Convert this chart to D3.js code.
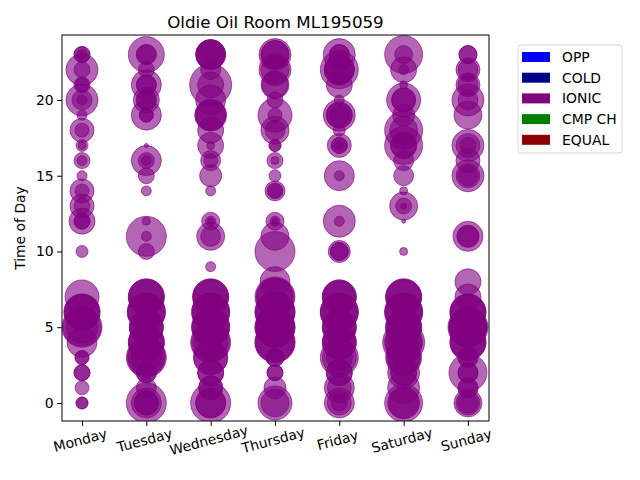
<!DOCTYPE html>
<html>
<head>
<meta charset="utf-8">
<script src="https://cdn.jsdelivr.net/npm/d3@7"></script>
<style>
  body { margin: 0; background: #fff; }
  text { font-family: "DejaVu Sans", sans-serif; }
</style>
</head>
<body>
<svg id="chart" width="640" height="480"></svg>
<script>
// days on the x axis
var days = ["Monday", "Tuesday", "Wednesday", "Thursday", "Friday", "Saturday", "Sunday"];

// hour of each bubble, one list per day
var hoursByDay = [
  [23, 23, 22, 22, 21, 20, 20, 20, 19, 18, 18, 17, 17, 16, 16, 15, 14, 14, 13, 13, 12, 12, 10, 7, 6, 5, 4, 3, 2, 1, 0,
   23, 21, 12, 6, 6, 5, 5, 3, 2, 0],
  [23, 23, 22, 21, 21, 20, 20, 19, 19, 17, 16, 16, 16, 15, 14, 12, 11, 11, 10, 7, 6, 5, 4, 3, 3, 2, 1, 0, 0,
   23, 21, 20, 19, 7, 7, 6, 6, 5, 5, 4, 4, 3, 3, 2, 0, 0],
  [23, 23, 22, 21, 21, 20, 19, 19, 18, 17, 17, 16, 16, 15, 14, 12, 12, 12, 11, 11, 9, 7, 6, 5, 4, 4, 3, 2, 1, 0, 0,
   23, 23, 19, 7, 7, 6, 6, 5, 5, 4, 3, 2, 1, 0],
  [23, 23, 22, 21, 20, 19, 19, 18, 18, 17, 16, 16, 15, 14, 14, 12, 12, 12, 11, 10, 8, 7, 6, 5, 5, 4, 3, 2, 1, 0,
   23, 22, 21, 17, 14, 7, 7, 6, 6, 5, 5, 4, 4, 3, 2, 0],
  [23, 23, 22, 22, 21, 20, 19, 19, 19, 18, 17, 17, 17, 15, 15, 12, 12, 10, 10, 7, 6, 5, 4, 3, 3, 2, 1, 0, 0,
   23, 22, 22, 19, 17, 10, 7, 7, 6, 6, 5, 5, 4, 4, 3, 2, 1, 0],
  [23, 23, 22, 22, 21, 20, 20, 19, 18, 17, 17, 16, 15, 14, 13, 13, 13, 12, 10, 7, 6, 5, 4, 4, 3, 2, 1, 0,
   20, 18, 17, 7, 7, 6, 6, 5, 5, 4, 4, 3, 3, 2, 2, 0, 0],
  [23, 22, 21, 20, 20, 19, 17, 17, 16, 15, 15, 11, 11, 8, 7, 6, 5, 4, 3, 2, 2, 1, 0, 0,
   23, 22, 21, 17, 15, 11, 6, 6, 5, 5, 5, 4, 4, 3, 2, 1, 0]
];

// bubble size (marker area) of each bubble, matching hoursByDay
var sizesByDay = [
  [64, 25, 256, 64, 64, 256, 100, 25, 25, 144, 49, 36, 16, 64, 25, 25, 144, 49, 144, 64, 169, 64, 36, 289, 324, 400, 225, 49, 64, 49, 36,
   64, 49, 64, 324, 289, 361, 256, 49, 64, 36],
  [324, 100, 64, 225, 100, 169, 100, 225, 49, 4, 225, 64, 25, 64, 25, 16, 400, 25, 64, 324, 361, 289, 324, 400, 225, 100, 100, 400, 225,
   100, 100, 100, 49, 324, 289, 361, 324, 289, 256, 324, 289, 361, 324, 100, 144, 144],
  [225, 196, 100, 441, 169, 225, 256, 225, 169, 169, 16, 100, 49, 121, 25, 81, 25, 9, 196, 100, 25, 324, 361, 361, 400, 289, 289, 169, 144, 400, 225,
   225, 196, 225, 324, 289, 361, 324, 361, 324, 361, 289, 169, 144, 225],
  [256, 196, 256, 196, 64, 289, 49, 196, 100, 36, 64, 16, 36, 100, 49, 81, 25, 9, 196, 400, 225, 400, 400, 400, 361, 400, 81, 64, 121, 289,
   196, 196, 169, 36, 64, 361, 324, 400, 361, 400, 361, 400, 361, 81, 64, 196],
  [256, 100, 361, 225, 169, 25, 256, 169, 100, 36, 144, 64, 16, 225, 25, 256, 25, 121, 81, 289, 361, 289, 289, 361, 169, 169, 225, 225, 64,
   100, 225, 225, 169, 64, 81, 289, 256, 361, 324, 289, 256, 289, 256, 289, 169, 144, 144],
  [361, 81, 169, 25, 16, 289, 144, 121, 361, 361, 169, 100, 100, 16, 196, 64, 9, 4, 16, 324, 361, 324, 441, 225, 324, 256, 256, 361,
   144, 196, 169, 324, 289, 361, 324, 324, 289, 361, 324, 289, 256, 169, 169, 256, 225],
  [81, 144, 144, 256, 100, 196, 256, 64, 144, 256, 100, 225, 121, 169, 169, 324, 400, 324, 100, 361, 100, 100, 196, 100,
   81, 100, 100, 144, 144, 121, 324, 289, 361, 324, 361, 324, 289, 100, 100, 100, 144]
];

// legend entries
var legendNames = ["OPP", "COLD", "IONIC", "CMP CH", "EQUAL"];
var legendColors = ["#0000ff", "#00008b", "#800080", "#008000", "#8b0000"];

var svg = d3.select("#chart");

var margin = {left: 62, right: 489, top: 35, bottom: 421};

var x = d3.scaleLinear().domain([-0.311, 6.327]).range([margin.left, margin.right]);
var y = d3.scaleLinear().domain([-1.19, 24.29]).range([margin.bottom, margin.top]);
var r = d3.scaleSqrt().domain([0, 400]).range([0, 20]);

// flatten per-day lists into points
var points = [];
days.forEach(function(d, i){
  hoursByDay[i].forEach(function(h, j){
    points.push({day: i, hour: h, size: sizesByDay[i][j]});
  });
});

var clip = svg.append("clipPath").attr("id", "clip")
  .append("rect")
  .attr("x", margin.left).attr("y", margin.top)
  .attr("width", margin.right - margin.left).attr("height", margin.bottom - margin.top);

svg.append("g").attr("clip-path", "url(#clip)")
  .selectAll("circle")
  .data(points)
  .enter()
  .append("circle")
  .attr("cx", d => x(d.day))
  .attr("cy", d => y(d.hour))
  .attr("r", d => r(d.size))
  .attr("fill", "#800080")
  .attr("fill-opacity", 0.6)
  .attr("stroke", "#800080")
  .attr("stroke-opacity", 0.6)
  .attr("stroke-width", 1);

//axes

var xAxis = svg.append("g")
  .attr("transform", `translate(0,${margin.bottom})`)
  .call(d3.axisBottom(x).tickValues(d3.range(days.length)).tickFormat(i => days[i]).tickSizeOuter(0).tickSize(4.9).tickPadding(3));

xAxis.selectAll("text")
  .attr("font-size", "13.9px")
  .attr("fill", "#000")
  .attr("text-anchor", "middle")
  .attr("dy", null)
  .attr("y", 0)
  .attr("dominant-baseline", "middle")
  .attr("transform", "translate(-2,20) rotate(-15)");

var yAxis = svg.append("g")
  .attr("transform", `translate(${margin.left},0)`)
  .call(d3.axisLeft(y).tickValues([0, 5, 10, 15, 20]).tickSizeOuter(0).tickSize(4.9).tickPadding(3.5));

yAxis.selectAll("text").attr("font-size", "13.9px").attr("fill", "#000");

svg.selectAll(".domain").remove();
svg.selectAll(".tick line").attr("stroke", "#000").attr("stroke-width", 1);

svg.append("rect")
  .attr("x", margin.left).attr("y", margin.top)
  .attr("width", margin.right - margin.left).attr("height", margin.bottom - margin.top)
  .attr("fill", "none").attr("stroke", "#000").attr("stroke-width", 1);

//title and axis label

svg.append("text")
  .attr("x", (margin.left + margin.right) / 2)
  .attr("y", 28)
  .attr("text-anchor", "middle")
  .attr("font-size", "16.7px")
  .text("Oldie Oil Room ML195059");

svg.append("text")
  .attr("transform", `translate(25,${(margin.top + margin.bottom) / 2}) rotate(-90)`)
  .attr("text-anchor", "middle")
  .attr("font-size", "13.9px")
  .text("Time of Day");

//legend

var legend = svg.append("g");

legend.append("rect")
  .attr("x", 518).attr("y", 45).attr("width", 104).attr("height", 108)
  .attr("rx", 3).attr("fill", "#fff").attr("stroke", "#d6d6d6");

legendNames.forEach(function(name, i){
  var ly = 57 + i * 20.7;
  legend.append("rect")
    .attr("x", 522).attr("y", ly - 5).attr("width", 28).attr("height", 10)
    .attr("fill", legendColors[i]);
  legend.append("text")
    .attr("x", 562).attr("y", ly + 5)
    .attr("font-size", "13.9px")
    .text(name);
});
</script>
</body>
</html>
